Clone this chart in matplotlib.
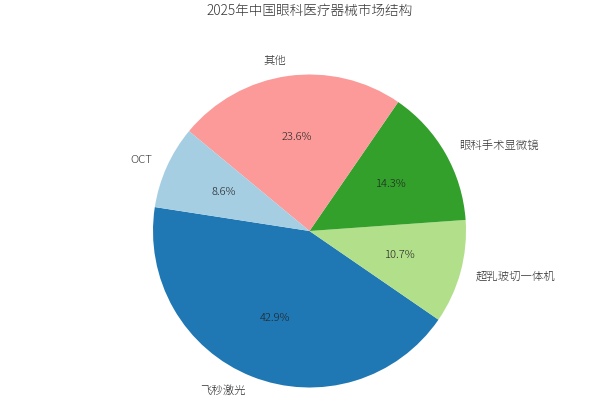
import matplotlib
matplotlib.use("Agg")
import matplotlib.pyplot as plt

plt.rcParams['font.family'] = ['Noto Sans CJK JP', 'Noto Sans CJK SC', 'DejaVu Sans']
plt.rcParams['font.weight'] = 300

categories = ['飞秒激光', '超乳玻切一体机', '眼科手术显微镜', '其他', 'OCT']
values = [30, 7.5, 10, 16.5, 6]
colors = ['#1f78b4', '#b2df8a', '#33a02c', '#fb9a99', '#a6cee3']
title = '2025年中国眼科医疗器械市场结构'

fig = plt.figure(figsize=(5.92, 4.04), dpi=100)
cx, cy, r = 309.5, 231.0, 156.5
W, H = 592, 404
h = 1.25 * r
ax = fig.add_axes([(cx - h) / W, (H - cy - h) / H, 2 * h / W, 2 * h / H])
wedges, texts, autotexts = ax.pie(values, labels=categories, colors=colors,
                                  autopct='%1.1f%%', startangle=171.2,
                                  counterclock=True, labeldistance=1.1,
                                  pctdistance=0.6,
                                  textprops={'fontsize': 8.2, 'color': '#333333',
                                             'fontweight': 300})
for t in autotexts:
    t.set_color('#222222')
    t.set_fontsize(8)
ax.set_aspect('equal')
fig.text(cx / W, 1 - 11 / H, title, ha='center', va='center', fontsize=9.8,
         color='#333333', fontweight=300)
fig.savefig('out.png', dpi=100)
